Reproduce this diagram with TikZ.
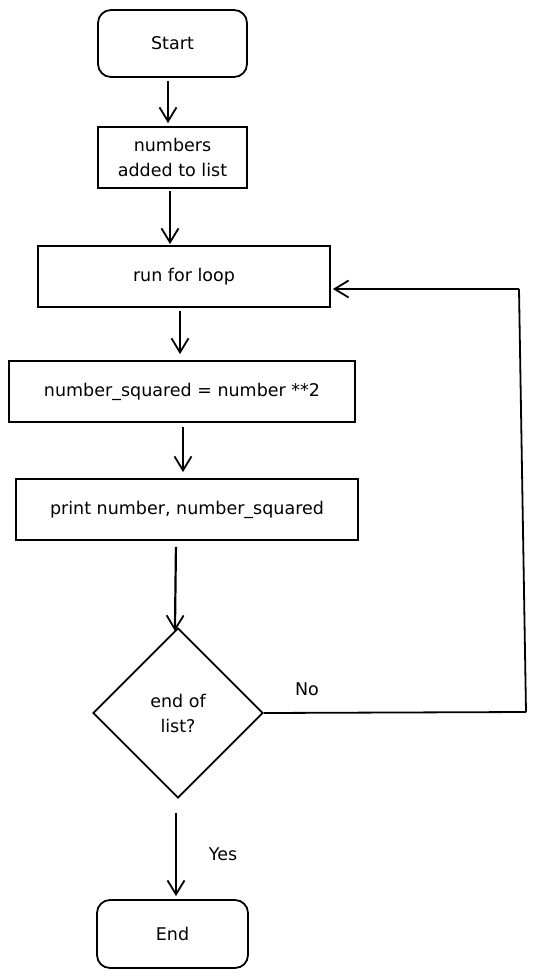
\documentclass[tikz,border=0pt]{standalone}
\usepackage{fontspec}
\setmainfont{DejaVu Sans}
\usetikzlibrary{arrows.meta,shapes.geometric}
\begin{document}
\begin{tikzpicture}[x=1pt,y=-1pt,
  box/.style={draw,line width=1.8pt,align=center,inner sep=0pt,font=\fontsize{17.5}{25}\selectfont},
  term/.style={box,rounded corners=13pt},
  flow/.style={line width=2.2pt,-{Straight Barb[length=14pt,width=17pt,line width=1.8pt]}},
  lbl/.style={font=\fontsize{17.5}{25}\selectfont,inner sep=0pt}]
\useasboundingbox (0,0) rectangle (538,977);
\node[term,minimum width=149pt,minimum height=67pt] (start) at (172.5,43.5) {Start};
\node[box,minimum width=149pt,minimum height=61pt] (nums) at (172.5,157.5) {numbers\\added to list};
\node[box,minimum width=292pt,minimum height=61pt] (loop) at (184,276.5) {run for loop};
\node[box,minimum width=346pt,minimum height=61pt] (sq) at (182,391.5) {number\_squared = number **2};
\node[box,minimum width=342pt,minimum height=61pt] (pr) at (187,509.5) {print number, number\_squared};
\node[draw,diamond,line width=1.8pt,minimum width=170pt,minimum height=170pt,inner sep=0pt,align=center,font=\fontsize{17.5}{25}\selectfont] (dec) at (178,713) {end of\\list?};
\node[term,minimum width=151pt,minimum height=68pt] (end) at (172.5,934) {End};
\coordinate (c1) at (526,712);
\coordinate (c2) at (519,289);
\draw[flow,shorten <=3pt,shorten >=3pt] ([xshift=-4.5pt]start.south) -- ([xshift=-4.5pt]nums.north);
\draw[flow,shorten <=2pt,shorten >=1pt] ([xshift=-2.5pt]nums.south) -- ([xshift=-2.5pt]nums.south |- loop.north);
\draw[flow,shorten <=3pt,shorten >=6pt] ([xshift=-4pt]loop.south) -- ([xshift=-2pt]sq.north);
\draw[flow,shorten <=4pt,shorten >=6pt] ([xshift=1pt]sq.south) -- ([xshift=-4pt]pr.north);
\draw[flow,shorten <=6pt,shorten >=-4pt] ([xshift=-11pt]pr.south) -- ([xshift=-3pt]dec.north);
\draw[flow,shorten <=14pt,shorten >=3pt] ([xshift=-2pt]dec.south) -- ([xshift=3.5pt]end.north);
\draw[line width=1.8pt] (dec.east) -- (c1);
\draw[line width=1.8pt] (c1) -- (c2);
\draw[flow,shorten >=2pt] (c2) -- (c2 -| loop.east);
\node[lbl] (no) at (307,689) {No};
\node[lbl] (yes) at (223,854) {Yes};
\end{tikzpicture}
\end{document}
